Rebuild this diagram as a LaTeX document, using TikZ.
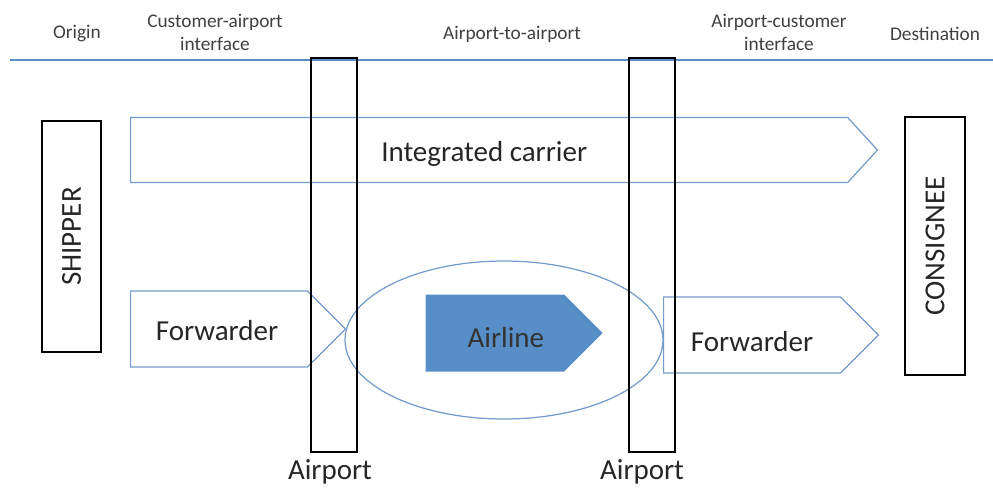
\documentclass[tikz,border=0pt]{standalone}
\usepackage{fontspec}
\setmainfont{Carlito}
\usepackage{xcolor}
\usepackage{tikz}
\usetikzlibrary{shapes.symbols, shapes.geometric, positioning}
\definecolor{rulebl}{RGB}{92,140,196}
\definecolor{flowbl}{RGB}{115,155,205}
\definecolor{airbl}{RGB}{88,142,199}

\begin{document}
\begin{tikzpicture}[
  x=0.02cm, y=-0.02cm,
  hdr/.style={font=\fontsize{11}{13}\selectfont, text=black!75, align=center, inner sep=0pt},
  big/.style={font=\fontsize{16.5}{19}\selectfont, text=black!85},
  flow/.style={signal, signal to=east, draw=flowbl, line width=0.7pt,
               inner sep=0pt, anchor=west},
  apt/.style={rectangle, draw=black, line width=1.2pt, minimum width=0.92cm,
              minimum height=7.88cm, inner sep=0pt},
  party/.style={rectangle, draw=black, line width=1.2pt, rotate=90, big, inner sep=0pt}
]
\useasboundingbox (0,0) rectangle (993,488);
%% header
\node[hdr] (h_orig) at (77,34)  {Origin};
\node[hdr] (h_cai)  at (215,32) {Customer-airport\\interface};
\node[hdr] (h_a2a)  at (512,34) {Airport-to-airport};
\node[hdr] (h_aci)  at (779,32) {Airport-customer\\interface};
\node[hdr] (h_dest) at (935,34) {Destination};
\coordinate (rule_l) at (10,60);
\coordinate (rule_r) at (993,60);
\draw[rulebl, line width=1.6pt] (rule_l) -- (rule_r);
%% flows
\node[flow, minimum width=14.94cm, minimum height=1.3cm, signal pointer angle=95,
      label={[big, shift={(-5,4)}]center:Integrated carrier}] (integ) at (130,150) {};
\node[flow, minimum width=4.3cm, minimum height=1.52cm, signal pointer angle=90,
      label={[big, shift={(-2,2)}]center:Forwarder}] (fwd_l) at (130,329) {};
\node[flow, minimum width=4.3cm, minimum height=1.52cm, signal pointer angle=90,
      label={[big, shift={(0,7)}]center:Forwarder}] (fwd_r) at (663,335) {};
\node[flow, draw=none, fill=airbl, minimum width=3.54cm, minimum height=1.54cm,
      signal pointer angle=90,
      label={[big, text=black!80, shift={(11,5)}]center:Airline}] (airline) at (425,333) {};
\node[ellipse, draw=flowbl, line width=0.7pt, minimum width=6.36cm,
      minimum height=3.16cm] (a2a_zone) at (504,340) {};
%% airports and parties
\node[apt] (apt_l) at (334,255) {};
\node[apt] (apt_r) at (652,255) {};
\node[party, minimum width=4.62cm, minimum height=1.18cm] (shipper) at (71.5,236.5) {SHIPPER};
\node[party, minimum width=5.16cm, minimum height=1.2cm] (consignee) at (935,246) {CONSIGNEE};
\node[big] (apt_l_lbl) at (330,472) {Airport};
\node[big] (apt_r_lbl) at (642,472) {Airport};
\end{tikzpicture}
\end{document}
